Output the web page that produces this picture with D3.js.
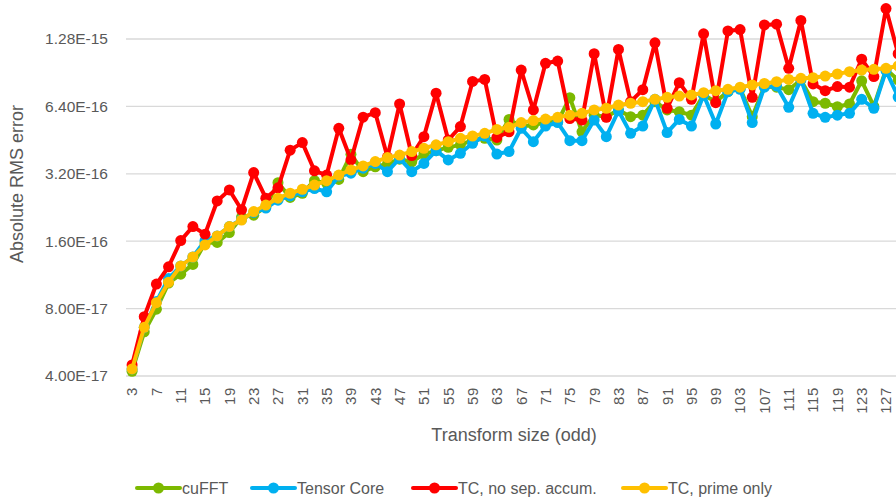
<!DOCTYPE html>
<html>
<head>
<meta charset="utf-8">
<script src="https://cdn.jsdelivr.net/npm/d3@7"></script>
<style>
  body { margin: 0; background: #fff; }
  svg { display: block; font-family: "Liberation Sans", Arial, sans-serif; }
  .grid line { stroke: #d9d9d9; stroke-width: 1.3; }
  .tick-label, .axis-title, .legend text { fill: #595959; }
</style>
</head>
<body>
<div id="chart"></div>
<script>
// Transform sizes (odd), x categories
var sizes = [3, 5, 7, 9, 11, 13, 15, 17, 19, 21, 23, 25, 27, 29, 31, 33, 35, 37, 39, 41, 43, 45,
  47, 49, 51, 53, 55, 57, 59, 61, 63, 65, 67, 69, 71, 73, 75, 77, 79, 81, 83, 85, 87, 89, 91,
  93, 95, 97, 99, 101, 103, 105, 107, 109, 111, 113, 115, 117, 119, 121, 123, 125, 127, 129];

// values are in units of 1e-16
var UNIT = 1e-16;

var cufft = [0.42, 0.63, 0.795, 1.04, 1.14, 1.26, 1.57, 1.58, 1.75, 2.05, 2.09, 2.28, 2.92, 2.51,
  2.62, 2.98, 2.90, 3.02, 3.91, 3.27, 3.44, 3.54, 3.72, 3.62, 3.92, 4.06, 4.20, 4.31, 4.53, 4.61,
  4.53, 5.60, 5.20, 5.29, 5.42, 5.47, 7.00, 4.93, 5.85, 5.76, 6.17, 5.76, 5.85, 6.72, 6.17, 6.06,
  5.85, 7.20, 6.72, 7.45, 7.70, 5.76, 7.85, 7.80, 7.60, 8.40, 6.72, 6.61, 6.38, 6.56, 8.33, 6.40,
  9.37, 8.40];

var tensorCore = [0.43, 0.66, 0.86, 1.09, 1.24, 1.36, 1.61, 1.69, 1.86, 2.00, 2.15, 2.25, 2.44,
  2.55, 2.66, 2.75, 2.66, 3.13, 3.22, 3.39, 3.56, 3.27, 3.75, 3.27, 3.56, 4.06, 3.69, 3.95, 4.38,
  4.72, 3.92, 4.02, 5.11, 4.45, 5.23, 5.42, 4.50, 4.50, 5.56, 4.69, 6.12, 4.85, 5.23, 6.88, 4.89,
  5.60, 5.23, 7.20, 5.34, 7.45, 7.63, 5.42, 7.80, 7.90, 6.34, 8.45, 5.96, 5.72, 5.85, 5.96, 6.88,
  6.28, 9.24, 7.05];

var tcNoSep = [0.448, 0.736, 1.03, 1.23, 1.61, 1.86, 1.72, 2.42, 2.71, 2.21, 3.24, 2.49, 2.77,
  4.08, 4.41, 3.30, 3.16, 5.11, 3.69, 5.73, 6.00, 3.80, 6.56, 3.86, 4.69, 7.33, 4.53, 5.20, 8.27,
  8.45, 4.65, 4.93, 9.30, 6.17, 9.97, 10.2, 5.65, 5.56, 11.0, 5.72, 11.5, 6.72, 7.60, 12.3, 6.28,
  8.17, 6.88, 13.5, 6.65, 13.9, 14.1, 7.03, 14.8, 14.9, 9.47, 15.5, 8.06, 7.52, 7.85, 7.80, 10.4,
  8.70, 17.5, 11.0];

var tcPrime = [0.43, 0.66, 0.85, 1.05, 1.24, 1.36, 1.54, 1.69, 1.86, 1.99, 2.17, 2.32, 2.49, 2.62,
  2.73, 2.85, 2.98, 3.16, 3.33, 3.47, 3.63, 3.78, 3.88, 4.02, 4.16, 4.31, 4.45, 4.61, 4.72, 4.85,
  5.05, 5.16, 5.42, 5.53, 5.62, 5.72, 5.85, 5.96, 6.17, 6.28, 6.49, 6.61, 6.72, 6.88, 7.03, 7.12,
  7.20, 7.37, 7.52, 7.63, 7.80, 7.98, 8.10, 8.25, 8.45, 8.54, 8.60, 8.74, 8.93, 9.15, 9.30, 9.37,
  9.47, 9.70];

var seriesNames = ["cuFFT", "Tensor Core", "TC, no sep. accum.", "TC, prime only"];
var seriesColors = ["#7cb900", "#00b0f0", "#ff0000", "#ffc000"];
var seriesValues = [cufft, tensorCore, tcNoSep, tcPrime];

var yTicks = [4e-17, 8e-17, 1.6e-16, 3.2e-16, 6.4e-16, 1.28e-15];

var width = 896, height = 504;
var plotLeft = 126, plotBottom = 376, decade = 67.4;

var svg = d3.select("#chart")
    .append("svg")
    .attr("width", width)
    .attr("height", height);

// Scales
var x = d3.scaleBand()
    .domain(sizes)
    .range([plotLeft, plotLeft + sizes.length * 12.16]);

var y = d3.scaleLog()
    .base(2)
    .domain([4e-17, 2.56e-15])
    .range([plotBottom, plotBottom - 6 * decade]);

var cx = function(n){ return x(n) + x.bandwidth() / 2; };

// Gridlines
svg.append("g")
    .attr("class", "grid")
  .selectAll("line")
    .data(yTicks)
  .enter().append("line")
    .attr("x1", plotLeft)
    .attr("x2", width)
    .attr("y1", function(d){ return y(d); })
    .attr("y2", function(d){ return y(d); });

// Y tick labels
svg.append("g")
  .selectAll("text")
    .data(yTicks)
  .enter().append("text")
    .attr("class", "tick-label")
    .attr("x", 108)
    .attr("y", function(d){ return y(d); })
    .attr("dy", "0.35em")
    .attr("text-anchor", "end")
    .attr("font-size", 15.5)
    .text(function(d){ return d.toExponential(2).toUpperCase(); });

// X tick labels (every other category), rotated
svg.append("g")
  .selectAll("text")
    .data(sizes.filter(function(d, i){ return i % 2 === 0; }))
  .enter().append("text")
    .attr("class", "tick-label")
    .attr("transform", function(d){ return "translate(" + cx(d) + ",387) rotate(-90)"; })
    .attr("text-anchor", "end")
    .attr("dy", "0.36em")
    .attr("font-size", 15)
    .attr("letter-spacing", 0.6)
    .text(function(d){ return d; });

// Axis titles
svg.append("text")
    .attr("class", "axis-title")
    .attr("x", 514)
    .attr("y", 441)
    .attr("text-anchor", "middle")
    .attr("font-size", 18)
    .text("Transform size (odd)");

svg.append("text")
    .attr("class", "axis-title")
    .attr("transform", "translate(23,184) rotate(-90)")
    .attr("text-anchor", "middle")
    .attr("font-size", 18)
    .text("Absolute RMS error");

// Series
var line = d3.line()
    .x(function(d, i){ return cx(sizes[i]); })
    .y(function(d){ return y(d * UNIT); });

seriesValues.forEach(function(vals, k){
  var g = svg.append("g").attr("class", "series");
  g.append("path")
      .datum(vals)
      .attr("fill", "none")
      .attr("stroke", seriesColors[k])
      .attr("stroke-width", 4)
      .attr("stroke-linejoin", "round")
      .attr("d", line);
  g.selectAll("circle")
      .data(vals)
    .enter().append("circle")
      .attr("cx", function(d, i){ return cx(sizes[i]); })
      .attr("cy", function(d){ return y(d * UNIT); })
      .attr("r", 5.5)
      .attr("fill", seriesColors[k]);
});

// Legend
var legendX = [137, 252, 413, 623];
var legend = svg.append("g")
    .attr("class", "legend")
  .selectAll("g")
    .data(seriesNames)
  .enter().append("g")
    .attr("transform", function(d, i){ return "translate(" + legendX[i] + ",488)"; });

legend.append("line")
    .attr("x1", 0)
    .attr("x2", 43)
    .attr("stroke", function(d, i){ return seriesColors[i]; })
    .attr("stroke-width", 4)
    .attr("stroke-linecap", "round");

legend.append("circle")
    .attr("cx", 21.5)
    .attr("r", 5.5)
    .attr("fill", function(d, i){ return seriesColors[i]; });

legend.append("text")
    .attr("x", 45)
    .attr("dy", "0.35em")
    .attr("font-size", 16)
    .text(function(d){ return d; });
</script>
</body>
</html>
